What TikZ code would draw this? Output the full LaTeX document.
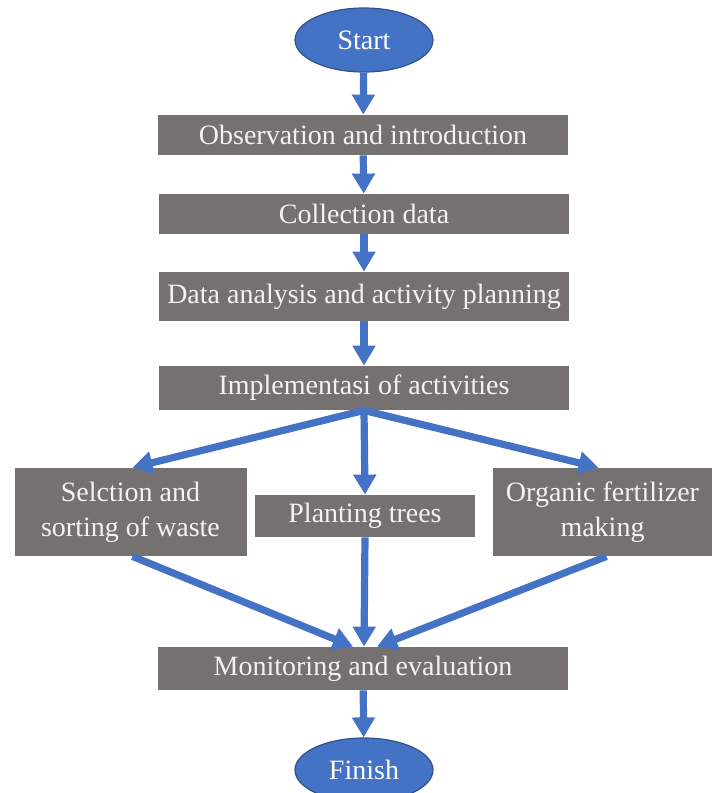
\documentclass[tikz,border=0pt]{standalone}
\usepackage{fontspec}
\setmainfont{Liberation Serif}
\usetikzlibrary{arrows.meta,shapes.geometric,positioning}

\definecolor{boxgris}{RGB}{118,113,113}
\definecolor{bleufleche}{RGB}{68,114,196}
\definecolor{bleubord}{RGB}{47,82,143}
\definecolor{texteclair}{RGB}{242,242,242}

\begin{document}
\begin{tikzpicture}[x=0.5pt,y=-0.5pt,
	etape/.style={fill=boxgris,text=texteclair,inner sep=0pt,align=center,
		font=\fontsize{14}{17.5}\selectfont},
	terminal/.style={ellipse,fill=bleufleche,draw=bleubord,line width=0.6pt,text=white,
		inner sep=0pt,minimum width=69pt,minimum height=32pt,font=\fontsize{14}{16}\selectfont},
	fleche/.style={draw=bleufleche,line width=3.6pt,-{Triangle[width=11pt,length=10pt]}}]

%Dimensions des boites
\def \largeur{205pt}
\def \hauteur{20pt}
\def \largeurcote{116pt}
\def \hauteurcote{44pt}

\useasboundingbox (0,0) rectangle (712,793);

%Debut et etapes principales
\node[terminal] (start) at (364,40) {Start};
\node[etape, minimum width=\largeur, minimum height=\hauteur] (observation) at (363,135) {Observation and introduction};
\node[etape, minimum width=\largeur, minimum height=\hauteur] (collection) at (364,214) {Collection data};
\node[etape, minimum width=\largeur, minimum height=24.5pt] (analysis) at (364,296.5) {Data analysis and activity planning};
\node[etape, minimum width=\largeur, minimum height=22pt] (implementation) at (364,388) {Implementasi of activities};

%Activites
\node[etape, minimum width=\largeurcote, minimum height=\hauteurcote] (selection) at (130.5,512) {Selction and\\sorting of waste};
\node[etape, minimum width=110pt, minimum height=21pt] (planting) at (365,516) {Planting trees};
\node[etape, minimum width=109.5pt, minimum height=\hauteurcote] (fertilizer) at (602.5,512) {Organic fertilizer\\making};

%Fin
\node[etape, minimum width=\largeur, minimum height=21.5pt] (monitoring) at (363,668.5) {Monitoring and evaluation};
\node[terminal] (finish) at (364,770) {Finish};

%Fleches
\draw[fleche] (start) -- (observation);
\draw[fleche] (observation) -- (collection);
\draw[fleche] (collection) -- (analysis);
\draw[fleche] (analysis) -- (implementation);

\draw[fleche] (implementation.south) -- ([xshift=1pt]selection.north);
\draw[fleche] (implementation.south) -- (planting.north);
\draw[fleche] (implementation.south) -- ([xshift=-2pt]fertilizer.north);

\draw[fleche] ([xshift=1pt]selection.south) -- ([xshift=-5pt]monitoring.north);
\draw[fleche] (planting.south) -- ([xshift=0.5pt]monitoring.north);
\draw[fleche] ([xshift=2pt]fertilizer.south) -- ([xshift=7pt]monitoring.north);

\draw[fleche] (monitoring) -- (finish);

\end{tikzpicture}
\end{document}
